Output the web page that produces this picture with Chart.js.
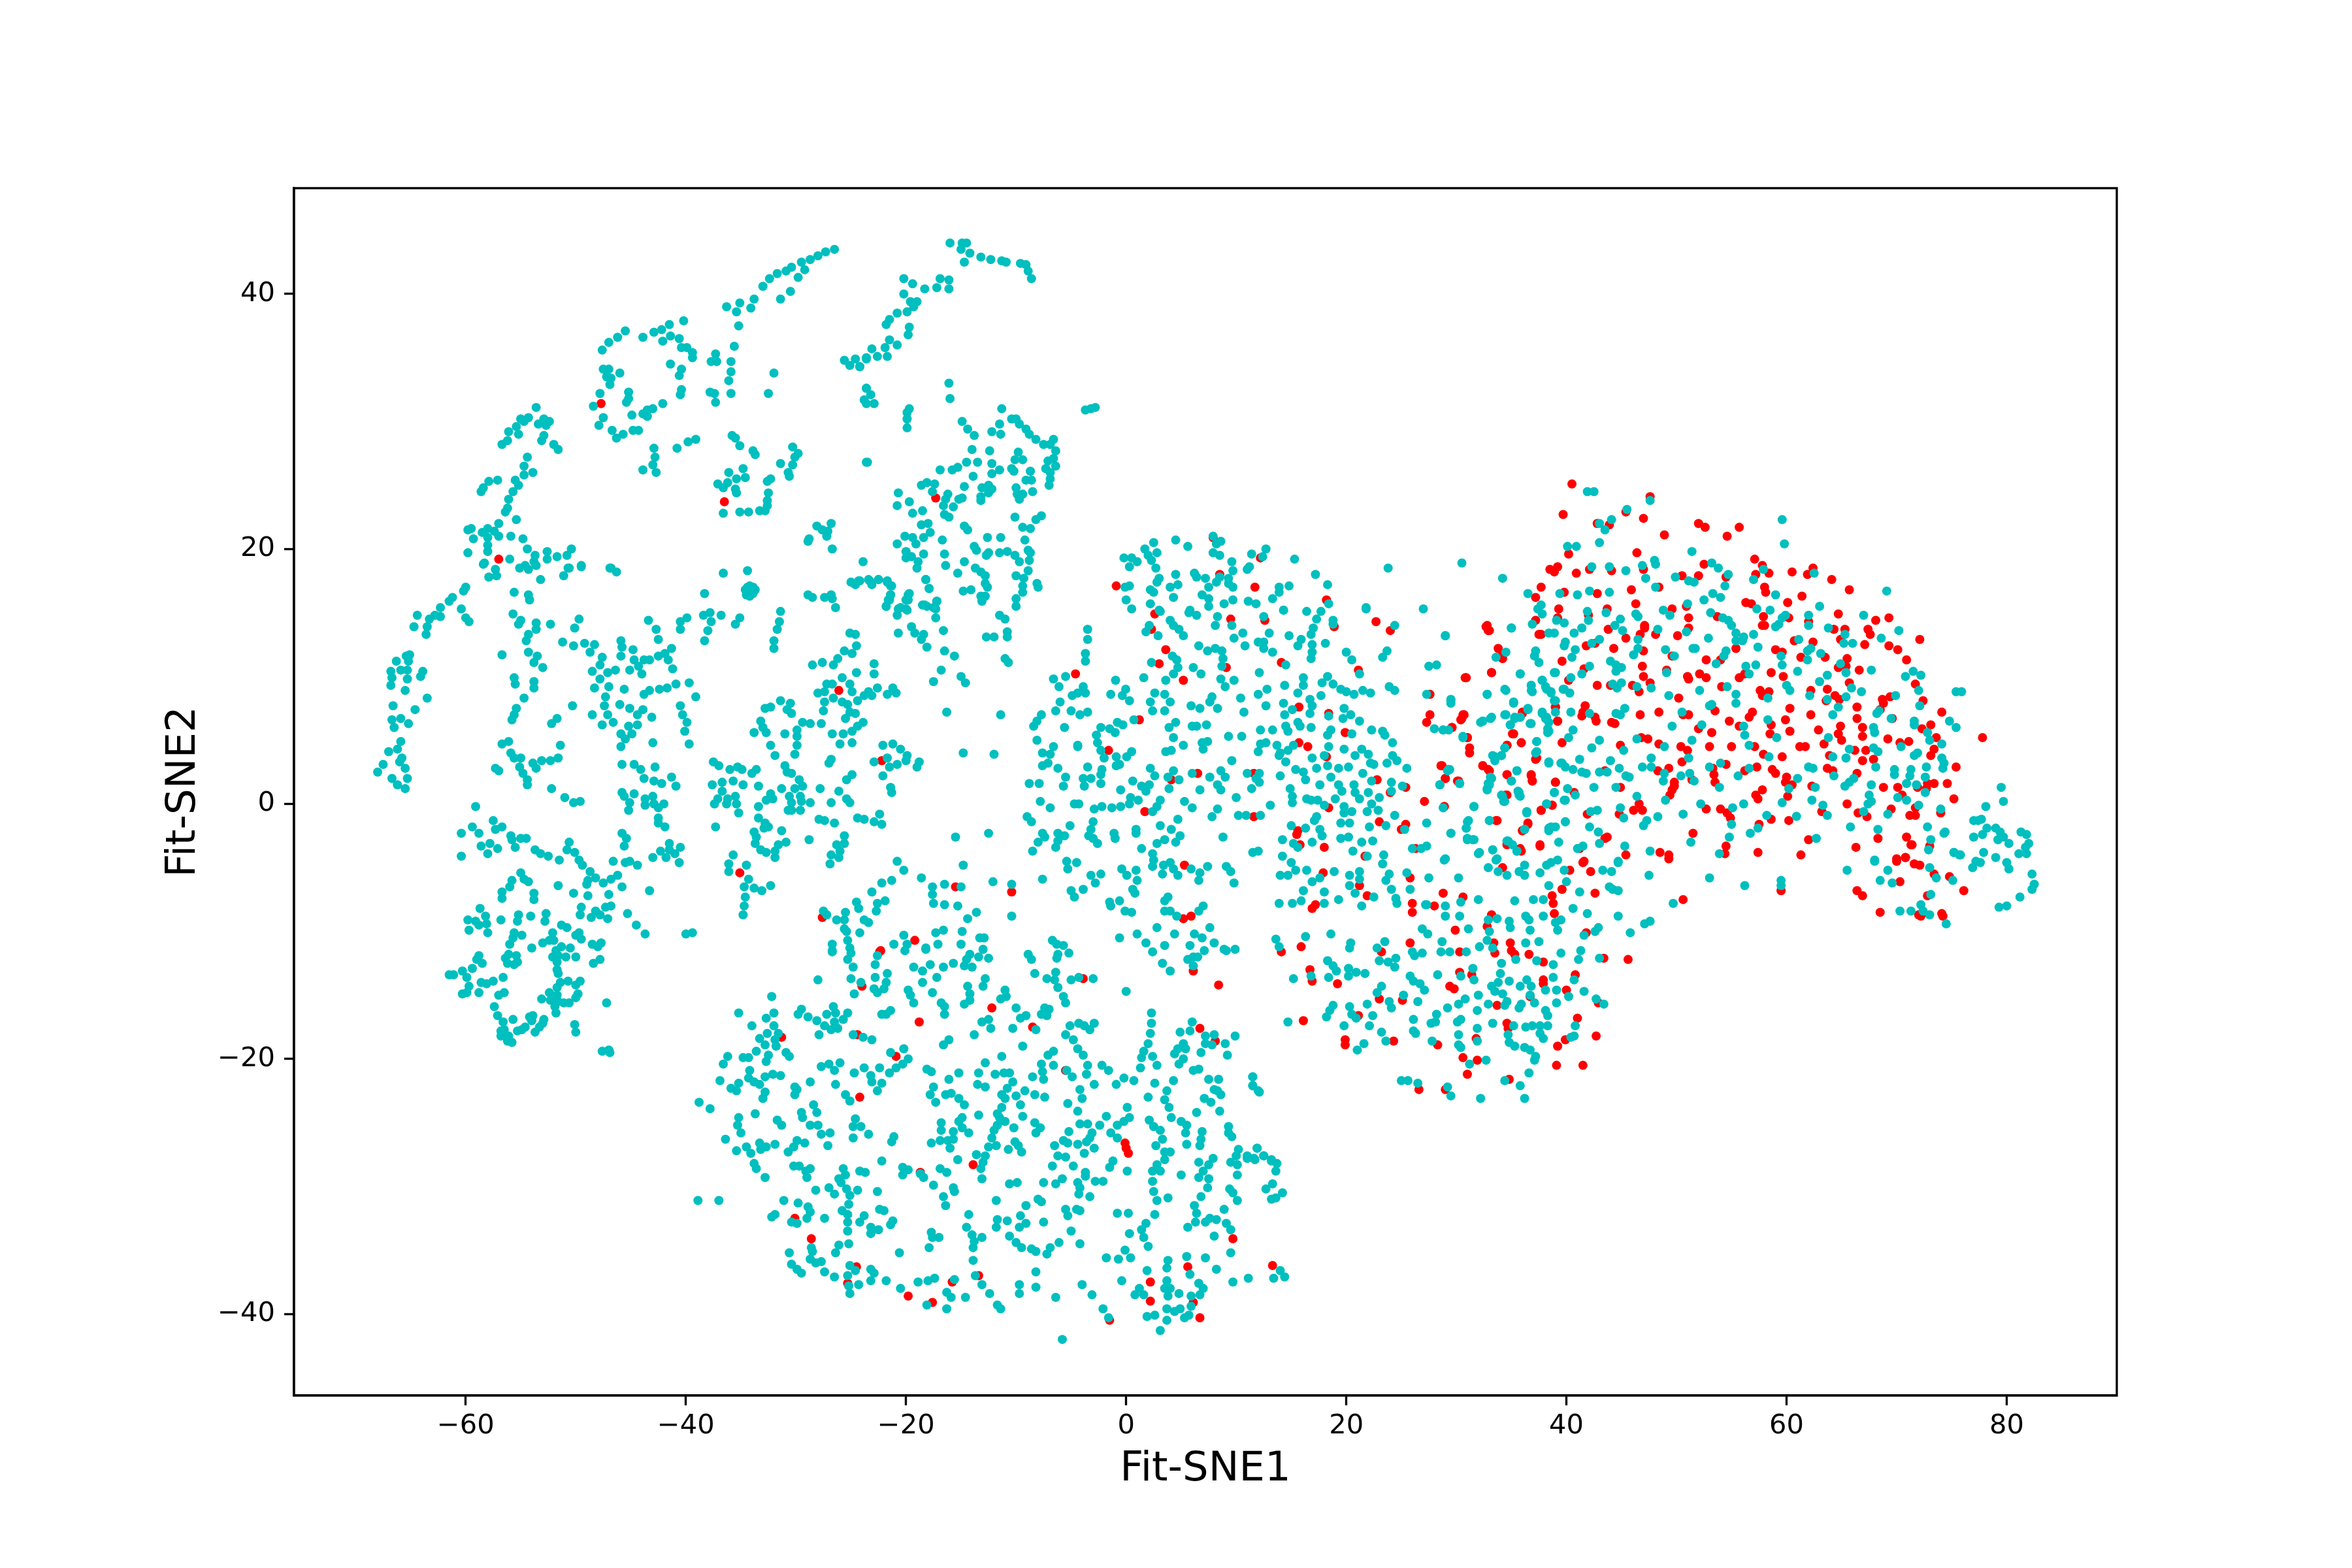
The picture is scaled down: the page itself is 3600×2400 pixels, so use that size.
<!DOCTYPE html>
<html>
<head>
<meta charset="utf-8">
<title>Fit-SNE</title>
<script src="https://cdn.jsdelivr.net/npm/chart.js@4"></script>
<style>
  html, body { margin: 0; padding: 0; background: #fff; }
  canvas { display: block; }
</style>
</head>
<body>
<canvas id="chart" width="3600" height="2400"></canvas>
<script>
const xTicks = [-60, -40, -20, 0, 20, 40, 60, 80];
const yTicks = [-40, -20, 0, 20, 40];
const xLabel = 'Fit-SNE1';
const yLabel = 'Fit-SNE2';

// [Fit-SNE1, Fit-SNE2]
const cyanPoints = [
[-26.5,43.5],[-27.3,43.3],[-28,43],[-28.7,42.7],[-29.5,42.5],[-29.2,41.9],[-29.8,41.3],[-30.4,42.1],[-30.9,41.8],[-31.7,41.6],[-32.4,41.2],[-33,40.6],[-30.5,40.2],[-31.4,39.6],[-33.8,39.6],[-35.1,39.3],[-36.3,39],[-35.4,38.6],[-34.1,38.9],[-35.2,37.5],[-40.2,37.9],[-41.5,37.6],[-42.2,37.2],[-42.9,37],[-43.9,36.6],[-41.4,36.7],[-42.1,36.3],[-40.6,36.5],[-40.4,35.8],[-39.9,35.8],[-39.4,35.4],[-39.4,35],[-45.5,37.1],[-46.2,36.6],[-47,36.2],[-47.6,35.6],[-37.3,35.3],[-37.7,34.7],[-37.2,34.7],[-35.6,35.9],[-35.9,34.7],[-35.9,33.9],[-36.1,33.2],[-35.9,32.2],[-32,33.8],[-32.5,32.2],[-37.8,32.3],[-37.4,32.2],[-37.3,31.5],[-41.4,34.5],[-40.4,34.1],[-40.6,33.6],[-40.4,32.5],[-40.5,32.1],[-47.5,34.1],[-47,34.1],[-46,33.8],[-47.2,33.5],[-46.8,33.4],[-46.9,32.9],[-47.8,32.2],[-45.2,32.3],[-45.2,31.8],[-45.4,31.5],[-48.4,31.2],[-42.1,31.4],[-43,31],[-43.5,30.9],[-43.9,30.6],[-43.5,30.4],[-44.9,30.5],[-47.5,30.3],[-47.9,29.7],[-46.7,29.3],[-46.3,28.7],[-45.7,29],[-44.8,29.3],[-44.3,29.3],[-39.1,28.6],[-39.8,28.4],[-40.8,27.9],[-42.9,27.9],[-42.8,27.2],[-43,26.6],[-43.9,26.2],[-42.7,26],[-35.8,28.9],[-35.5,28.7],[-35.1,28.1],[-33.9,27.7],[-33.7,27.4],[-30.3,28],[-29.8,27.5],[-30.1,27.2],[-30.3,26.6],[-31.4,26.7],[-30.7,26],[-30.6,25.7],[-34.8,26.3],[-36.1,26],[-34.6,25.6],[-35.4,25.5],[-36.2,25.2],[-37.1,25.1],[-36.6,24.8],[-35.5,24.7],[-35.4,24.4],[-32.3,25.5],[-32.6,25.3],[-32.5,24.4],[-32.6,23.8],[-32.6,23.4],[-32.8,23],[-33.3,23],[-34.3,22.9],[-35.1,22.9],[-36.6,22.8],
[-53.6,31.1],[-55,30.2],[-54.3,30.3],[-54.7,30],[-52.9,30.2],[-52.4,30],[-53.4,29.8],[-52.7,29.7],[-55.4,29.6],[-56.1,29.2],[-55.2,29],[-52.9,28.9],[-53.1,28.5],[-56.2,28.5],[-56.7,28.2],[-52,28.2],[-51.6,27.8],[-54.4,27.2],[-54.7,26.5],[-53.9,26],[-54.7,25.8],[-57.1,25.4],[-57.9,25.3],[-55.5,25.4],[-55.2,25],[-58.4,24.8],[-58.6,24.5],[-55.7,24.5],[-56.1,23.9],[-56.2,23.2],[-56.4,22.9],[-55.4,22.3],[-57,22],[-59.5,21.6],[-59.8,21.5],[-58,21.6],[-58.5,21.3],[-57.4,21.4],[-58,20.9],[-59.3,20.8],[-57,21],[-55.9,21],[-54.8,20.8],[-58,20.3],[-59.8,19.7],[-58,19.8],[-54.4,20],[-52.6,19.8],[-50.4,20],[-50.8,19.5],[-51.7,19.4],[-52.6,19.2],[-53.7,19.5],[-53.8,19],[-56,19.2],[-58.3,18.9],[-54.6,18.7],[-49.5,18.7],[-50.6,18.5],
[-26.8,22],[-28.1,21.8],[-27.6,21.5],[-27.1,21.4],[-27.2,21],[-28.8,20.8],[-28.9,20.6],[-26.7,20],[-23.9,19],[-25.6,34.8],[-24.6,34.9],[-25.1,34.4],[-24.2,34.3],[-23.6,34.9],[-23.6,32.6],[-23.8,31.7],[-23.6,31.4],[-23.6,26.8],[-46.9,18.5],
[-16,44],[-14.9,44],[-14.5,44],[-15,43.5],[-14.2,43.2],[-13.2,42.9],[-12.3,42.7],[-11.3,42.6],[-10.9,42.5],[-14.7,42.5],[-9.6,42.4],[-9.1,42.3],[-8.9,41.8],[-8.6,41.2],[-20.2,41.2],[-19.4,40.8],[-16.9,41.2],[-16.1,41.1],[-16.1,40.4],[-17.2,40.5],[-18.3,40.4],[-20.2,40],[-19,39.4],[-19.6,39.4],[-19.3,39],[-19.9,38.6],[-20.8,38.5],[-21.5,38],[-21.8,37.6],[-19.7,37.4],[-19.8,36.8],[-21.5,36.4],[-20.8,36],[-21.9,35.8],[-23.1,35.7],[-21.7,35.1],[-22.6,35.1],[-23.6,35],[-24.2,34.3],[-16.1,33],[-16,31.8],[-23.6,32.6],[-23.2,32.1],[-22.9,31.4],[-19.7,31],[-19.9,30.7],[-19.9,30.2],[-19.9,29.5],[-3.2,31],[-3.7,30.9],[-2.8,31.1],
[-11.3,31],[-14.9,30],[-14.4,29.4],[-13.8,28.9],[-11.5,29.8],[-12.2,29.2],[-11.4,29],[-10.4,30.2],[-10,30.2],[-9.7,29.8],[-9.1,29.4],[-8.8,29],[-8.2,28.6],[-7.5,28.2],[-6.6,28.6],[-6.9,28.2],[-6.4,27.7],[-14,27.8],[-12.4,27.7],[-9.8,27.6],[-6.6,27.1],[-9.4,27],[-10.1,27],[-7.1,26.9],[-23.5,26.8],[-13.5,26.8],[-14.5,26.8],[-12.2,26.7],[-15.3,26.4],[-16.9,26.2],[-15.8,26.2],[-11.5,26.2],[-12.2,25.9],[-10.4,26.3],[-10.2,26.1],[-6.4,26.5],[-7.3,26.3],[-8.7,26.1],[-6.9,26],[-13.9,25.7],[-6.9,25.5],[-9.1,25.4],[-8.6,25.4],[-7,25],[-17.4,25.1],[-18.1,25.2],[-18.6,25],[-14.7,24.9],[-12.5,25],[-12.2,24.7],[-13.1,24.8],[-10,24.8],[-8.5,24.5],[-20.7,24.4],[-17.6,24.5],[-16.2,24.3],[-12.5,24.4],[-9.4,24.3],[-14.9,24],[-13.2,24.1],[-9.9,24.3],[-9.7,23.9],[-15.2,23.9],[-13.2,23.8],[-16.4,23.9],[-19.7,23.7],[-20.8,23.4],[-15.7,23.3],[-16.6,23.4],[-18.5,23],[-19.4,22.8],[-16.5,22.7],[-16.1,22.5],[-10.1,22.5],[-7.7,22.6],[-8.2,22.3],[-18.6,21.9],[-18,22],[-14.7,21.8],[-14.4,21.5],[-9.4,21.7],[-8.7,21.6],[-17.8,21.3],[-20.1,21],[-20.8,20.4],[-19.4,20.9],[-19.1,20.4],[-18.4,20.9],[-16.7,20.7],[-12.6,20.9],[-11.4,20.9],[-9.2,20.7],[-13.8,20.2],[-13.6,19.9],[-8.9,19.9],[-20,19.8],[-18.4,19.6],[-16.5,19.6],[-12.5,19.7],[-11.5,19.7],[-10.8,19.8],[-10.1,19.5],[-8.7,19.7],[-12.7,19.5],[-19.5,19.4],[-20,19.3],[-8.8,19.1],[-9.7,19],[-14.7,19],[-18.9,19],[-16.4,18.7],[-19,18.5],[-13.7,18.5],[-13.2,18.2],[-12.8,17.9],[-8.9,18.3],[-15.3,18.1],[-18.2,17.6],[-10,17.9],[-9.3,17.7],[-8.1,17.3],[-12.8,17.3],[-9.4,17.1],[-8,17],[-12.6,17],[-21.7,17.4],[-22.5,17.6],[-23.4,17.6],[-24.2,17.5],[-21.4,17.1],[-17.9,16.9],[-14.8,16.7],[-14.1,16.8],[-21.4,16.4],[-19.8,16.4],[-9.4,16.6],[-13.2,16.3],[-12.8,16.3],[-21.5,16],[-19.8,16],[-10,16.1],[-17.2,15.9],[-13.1,15.9],[-21.8,15.5],[-18.5,15.6],[-17.3,15.3],[-10,15.5],[-20.7,15.3],[-20,15.3],[-18.1,15.5],
[4.5,20.7],[7.9,21],[8.6,20.6],[8.2,20.4],[5.6,20.2],[2.5,20.5],[1.7,20],[2.8,19.7],[2,19.5],[-0.2,19.3],[0.5,19.3],[1,19],[0.3,18.6],[2.3,19.1],[12.7,20],[11.4,19.6],[12.4,19.4],[7.9,19.7],[8.5,19.5],[15.3,19.2],[9.6,19],[11.2,18.6],[11,18.4],[9.7,18.3],[23.8,18.5],[2.7,18.5],[4.5,18],[6.2,18.1],[6.4,17.8],[17.2,18],[8.5,17.8],[9.3,17.7],[3,17.7],[2.8,17.4],[7.2,17.7],[8.2,17.4],[9.3,17.3],[4.7,17.2],[4,17],[13.9,17],[14.8,17.1],[18.3,17.2],[9.7,17],[7.5,17],[-0.1,17],[0.3,17.1],[2.2,16.8],[2.5,16.6],[13.9,16.6],[4.3,16.2],[6.9,16.4],[13.3,16.1],[7.5,16.1],[9.7,16],[11.1,15.9],[11.8,15.7],[18.4,15.7],[0,16],[2.2,15.7],[8.9,15.7],[7.5,15.5],[21.8,15.3],[27,15.3],[14.3,15.2],[16.4,15.1],[17.7,15.1],[3,15.2],[0.5,15.3],[5.8,15.2],
[-57.9,17.8],[-57.2,17.9],[-58.4,18.8],[-57.3,18.4],[-55.1,18.5],[-54.3,18.4],[-53.6,18.7],[-53.2,17.6],[-51.1,17.9],[-50.7,18.5],[-49.5,18.6],[-46.8,18.5],[-46.3,18.2],[-36.6,18.1],[-34.4,18.3],[-34.2,16.7],[-34.4,17],[-33.9,16.5],[-34.5,16.4],[-33.9,17],[-34.2,17.1],[-34.6,16.8],[-33.7,16.8],[-34.2,16.3],[-38.3,16.5],[-28.9,16.4],[-28.5,16.2],[-27.4,16.2],[-26.8,16.4],[-26.7,16.1],[-26.4,15.4],[-25,17.4],[-24.3,17.5],[-24.6,17.2],[-23.3,17.5],[-23.1,17.2],[-22.5,17.6],[-21.7,17.5],[-21.3,17.1],[-18.2,17.6],[-17.9,16.9],[-21.4,16.4],[-21.6,16],[-21.8,15.5],[-19.7,16.5],[-20,16],[-20.5,15.4],[-19.9,15.2],[-20.8,14.8],[-18.3,15.6],[-17.2,15.9],[-17.5,15.4],[-17.3,14.6],[-20.7,13.4],[-19.5,13.9],[-19.2,13.4],[-18.4,13.3],[-18.6,12.9],[-18.1,12.3],[-16.6,13.6],[-16.5,12],[-16.8,10.5],[-17.5,9.6],[-16.3,7.2],
[-60,17],[-60.2,16.7],[-61.2,16.2],[-61.5,15.9],[-62.3,15.4],[-60.4,15.3],[-62.8,14.8],[-63.3,14.5],[-62.3,14.7],[-60,14.6],[-59.7,14.3],[-64.4,14.8],[-64.7,13.9],[-63.5,13.9],[-63.6,13.3],[-55.6,16.6],[-54.3,16.4],[-54.2,16],[-55.7,14.9],[-55,14.4],[-55.2,14.1],[-53.6,14.2],[-52.3,14.1],[-53.6,13.7],[-54.3,13.3],[-54.5,12.8],[-49.7,14.5],[-50.1,13.8],[-51.2,12.7],[-50.2,12.4],[-49.2,12.6],[-48.3,12.5],[-48.7,11.9],[-56.7,11.7],[-54.3,11.9],[-53.5,11.6],[-53.8,11.1],[-53,10.7],[-65.1,11.7],[-65.4,11.6],[-66.3,11.2],[-65.2,11.2],[-66.8,10.4],[-65.9,10.5],[-65.3,10.5],[-63.9,10.4],[-64.1,10],[-66.7,9.9],[-65.3,9.8],[-66.8,9.3],[-65.5,8.9],[-63.5,8.3],[-66.6,7.7],[-64.6,7.4],[-66.7,6.6],[-65.9,6.7],[-65.2,6.3],[-66.5,6],[-65.9,4.9],[-67,4.1],[-66.2,4.3],[-65.8,3.6],[-66,3.3],[-65.5,2.8],[-67.5,3.1],[-68,2.5],[-66.7,2],[-65.3,2],[-66.2,1.5],[-65.5,1.2],
[-55.6,9.9],[-55.5,9.4],[-53.8,9.6],[-53.8,9.1],[-54.7,8.3],[-55.4,7.5],[-55.6,7],[-55.8,6.6],[-50.3,7.7],[-51.7,6.7],[-52.2,6.3],[-48.5,7],[-47.6,6.2],[-47.6,11.5],[-47.8,10.9],[-48.5,10.4],[-46.4,10.5],[-47.1,10.3],[-47.8,9.8],[-48.3,9.1],[-47,9.2],[-47.3,8.4],[-45.9,12.8],[-45.8,12.3],[-45.9,11.6],[-44.8,12.1],[-44.7,11.3],[-45.1,10.5],[-44.3,10.8],[-44,10.2],[-43.8,11.3],[-43.3,11.3],[-42.5,11.6],[-41.3,12.2],[-41.9,11.8],[-41.6,11.3],[-41.2,10.6],[-45.6,9],[-43.3,8.9],[-43.8,8.6],[-42.4,9],[-41.7,9.1],[-40.9,9.4],[-39.7,9.5],[-39.1,8.4],[-47.4,7.7],[-46,7.8],[-45.1,7.5],[-47.1,7],[-43.9,7.4],[-44.4,7],[-43.1,6.8],[-46.6,6.4],[-44.4,6.2],[-45.2,6.1],[-40.5,7.7],[-40.3,7],[-39.9,6.4],[-40.1,5.7],[-45.9,5.5],[-44.9,5.5],[-45.5,5.1],[-45.9,4.5],[-43,4.8],[-39.7,4.7],[-43.4,14.4],[-42.7,13.7],[-42.5,12.9],[-40.5,14.3],[-39.9,14.6],[-40.5,13.7],[-38.4,14.8],[-37.8,15],[-36.8,14.8],[-37.7,14.3],[-35.1,14.6],[-35.5,14.1],[-38,13.6],[-38.3,12.8],[-31.4,15.1],[-31.5,14.3],[-31.7,13.7],[-32,12.8],[-32,12.2],
[-25.1,13.4],[-24.6,13.3],[-24.5,12.4],[-25.6,12],[-24.9,11.8],[-26.2,11.4],[-26.6,10.9],[-27.6,11.1],[-28.5,10.9],[-24.5,10.3],[-22.9,11],[-22.9,10.2],[-25.8,9.9],[-25.1,9.4],[-24.9,8.8],[-27.2,9.4],[-26.7,9.4],[-28,8.7],[-27.4,8.8],[-26.6,8.3],[-27.4,8],[-25.8,8],[-24.4,8.1],[-23.4,8.8],[-23.8,8.5],[-23.1,8.5],[-22.6,9.1],[-21.2,9.1],[-21.7,8.6],[-20.9,8.7],[-25.3,7.8],[-27.5,7.3],[-25.1,7.2],[-24.6,7.1],[-25.5,6.7],[-23.9,6.4],[-24.4,6.1],[-27.7,6.3],[-26.7,5.5],[-25.7,5.5],[-24.9,5.7],[-24.9,4.8],[-26,4.7],[-31.4,8.1],[-32.3,7.6],[-32.8,7.5],[-30.5,7.9],[-30.8,7.4],[-30.4,7.1],[-33.2,6.5],[-33,6],[-33.8,5.6],[-32.7,5.6],[-31,5.5],[-29.4,6.4],[-28.7,6.3],[-29.9,5.8],[-29.9,5.3],[-32.3,4.6],[-29.9,4.6],[-30.1,3.9],[-31.9,3.8],[-22.1,4.6],[-21.2,4.7],[-20.5,4.3],[-19.9,3.8],[-22.9,3.3],[-21.7,3.6],[-21.5,2.9],[-20.8,3.1],[-20,3.4],[-18.8,3.3],[-19,2.9],[-22.1,2.2],[-21.4,1.3],[-21.3,0.9],[-26.8,3.5],[-27,3.2],[-24.9,2.3],[-25.4,1.9],[-26.1,1],[-27.8,1.2],[-25.4,0.4],[-25.1,0.1],[-26.8,0.1],
[-31,3],[-30.8,2.5],[-30.4,2.4],[-29.7,1.9],[-29.4,1.4],[-31.3,1.2],[-30.1,1.2],[-30.6,0.6],[-29.6,0.6],[-28.7,0.1],[-30.4,0.1],[-29.5,0.2],[-30.7,-0.5],[-29.6,-0.5],[-30.4,-0.5],[-32.3,0.8],[-32.1,0.4],[-32.7,0.3],[-33.4,1.4],[-33.4,-0.2],[-33.4,-1.1],[-32.8,-1.5],[-32.5,-1.8],[-32.9,-1.9],[-34,2.4],[-33.6,2.7],[-34.8,1.5],[-35.3,2.9],[-36,2.7],[-34.9,2.7],[-35.7,1.8],[-37.5,3.3],[-37,3],[-37.6,1.5],[-36.7,1.7],[-36.7,1],[-35.5,0.6],[-36.2,0.4],[-37.1,0.4],[-37.4,0],[-36.3,0],[-35.4,0],[-35.2,-0.7],[-37.3,-1.8],[-33.8,-2.2],[-33.6,-2.6],[-31.3,-2.1],[-30.9,-3],[-31.6,-3.2],[-33.7,-3.1],[-33.2,-3.6],[-32.7,-3.8],[-31.9,-3.7],[-31.9,-4.2],[-28.8,-2.8],[-27.9,-1.2],[-27.4,-1.3],[-26.5,-1.5],[-25.6,-2.5],[-25.6,-3.1],[-26.3,-3.2],[-26,-3.7],[-26.8,-4],[-26.1,-4.2],[-26.9,-4.7],[-24.4,-1.1],[-23.8,-1.2],[-22.9,-1.4],[-22.4,-0.8],[-22.2,-1.6],[-35.7,-4],[-36.1,-4.7],[-34.5,-4.8],[-36.1,-5.3],[-34.3,-5.9],[-34.7,-6.5],[-33.8,-6.6],[-33.1,-6.8],[-32.3,-6.4],[-34.6,-7.3],[-34.7,-8],[-34.8,-8.7],
[-20.8,-4.5],[-20.2,-5.2],[-18.6,-5.8],[-21.3,-6],[-22.2,-6.2],[-16.5,-6.3],[-23.1,-6.9],[-17.6,-6.5],[-17.6,-7.1],[-17.5,-7.8],[-16.5,-7.9],[-24.5,-7.7],[-24.3,-8.2],[-21.9,-7.6],[-22.6,-7.8],[-22.7,-8.4],[-25.5,-8.5],[-27.5,-8.4],[-27.2,-8.7],[-26.3,-9.1],[-25.6,-9.1],[-23.8,-9.1],[-23.4,-9.3],[-25.6,-9.8],[-25.4,-10],[-24.2,-10.1],[-16.6,-9.9],[-17.3,-10.1],[-20.2,-10.3],[-21.1,-11],[-19.9,-11],[-18.2,-11.3],[-17.1,-11],[-26.7,-11],[-25.3,-10.7],[-25.1,-11.3],[-26.7,-11.5],
[-56.7,4.7],[-56.1,4.9],[-55.9,4],[-55.6,3.6],[-55,3.6],[-55.1,2.9],[-54.8,2.4],[-54.4,1.9],[-54.4,1.5],[-57.3,2.8],[-57,2.6],[-53.9,3.2],[-53.6,2.8],[-53.1,3.4],[-52.3,3.4],[-51.6,3.6],[-51.4,4.6],[-52.2,1.2],[-51,0.5],[-50.2,0.1],[-49.6,0.2],[-59.1,-0.2],[-45.8,3.1],[-44.7,3.1],[-44.1,2.7],[-42.8,2.9],[-43.8,2],[-42.9,1.8],[-42.2,1.6],[-41.3,2.1],[-40.9,1.4],[-45.8,0.9],[-44.7,0.8],[-45.6,0.6],[-43,0.6],[-43.7,0.4],[-45.1,0.1],[-43.7,-0.1],[-42.9,0],[-42,0],[-42.5,-0.3],[-45.2,-0.5],[-42.5,-1.1],[-42.5,-1.5],[-41.9,-1.8],[-45.8,-2.3],[-45.4,-2.7],[-45.6,-3.3],[-40.5,-3.4],[-41.5,-3.1],[-42.3,-3.7],[-41.5,-3.6],[-43,-4.2],[-41,-3.9],[-40.6,-4.6],[-41.8,-4.2],[-46.6,-4.5],[-45.5,-4.6],[-45.1,-4.5],[-44.4,-4.8],
[-57.5,-1.3],[-59.4,-1.8],[-60.4,-2.3],[-58.8,-2.3],[-56.7,-1.8],[-57.3,-2],[-55.9,-2.5],[-55.8,-2.8],[-55,-2.7],[-54.5,-2.7],[-57.8,-3.1],[-58.6,-3.3],[-57.1,-3.5],[-58,-3.9],[-55.5,-3.4],[-60.4,-4.1],[-53.7,-3.6],[-53.2,-3.9],[-52.5,-4.1],[-50.6,-3],[-50.8,-3.6],[-50.1,-3.8],[-51.5,-4.4],[-49.7,-4.4],[-49.4,-4.8],[-48.7,-5.3],[-55,-5.4],[-54.7,-5.9],[-54.3,-6.1],[-55.8,-6],[-48.2,-5.8],[-48.9,-6],[-46.2,-5.6],[-46.8,-5.9],[-47.5,-6.2],[-49,-6.3],[-51.6,-6.4],[-45.8,-6.5],[-43.3,-6.8],[-56,-6.5],[-56.7,-6.9],[-53.8,-7],[-53.8,-7.5],[-56.7,-7.4],[-50.2,-7],[-48.9,-7.2],[-47,-7.1],
[-58.7,-8.2],[-59.8,-9.1],[-59.1,-9.2],[-58.2,-8.8],[-58.1,-9.4],[-58.8,-9.5],[-59.7,-9.9],[-58,-10.1],[-56.8,-9.1],[-55.2,-8.7],[-55.3,-9.2],[-54.1,-8.8],[-52.7,-8.6],[-52.8,-9.2],[-51.3,-9.5],[-50.8,-9.7],[-49.5,-8.1],[-49.6,-8.7],[-48.2,-8.4],[-48.6,-8.9],[-47.3,-8.1],[-46.8,-8],[-47.1,-9],[-47.8,-8.7],[-45.3,-8.6],[-44.5,-9.5],[-43.7,-10.2],[-40,-10.2],[-39.4,-10.1],[-55.6,-10.1],[-55.7,-10.5],[-54.9,-10.3],[-56,-11],[-54,-11.3],[-52.1,-10.1],[-52,-10.7],[-53,-10.9],[-52.4,-10.7],[-51.3,-11.2],[-51.8,-11.5],[-50.5,-11.3],[-50,-10.3],[-49.7,-10.1],[-49.5,-10.6],[-48.5,-11],[-48,-11.2],[-47.7,-10.9],[-52.1,-12],[-51.6,-11.9],[-50.9,-12],[-50,-12],[-51.7,-12.4],[-47.8,-12.2],[-48.4,-12.5],[-58.8,-11.9],[-59,-12.2],[-58.5,-12.5],[-56.1,-11.8],[-56.4,-12.1],[-55.4,-11.9],[-56.2,-12.5],[-55.3,-12.4],[-55.6,-12.6],[-59.4,-12.9],[-60.3,-13.1],[-61.5,-13.4],[-61.1,-13.4],[-59.9,-13.6],[-56.6,-13.6],[-51.7,-13],[-51.6,-13.3],[-58.6,-14],[-58.1,-14.1],[-57.5,-13.9],[-59.7,-14.3],[-58.8,-14.8],[-60.3,-14.9],[-59.9,-14.8],[-51.4,-14],[-50.7,-13.9],[-50,-14.2],[-49.6,-13.9],[-51.7,-14.4],[-52.4,-14.8],[-49.8,-14.9],[-50,-15.2],[-53.1,-15.3],[-52.3,-15.4],[-51.7,-15],[-51.6,-15.5],[-56.5,-14.8],[-57,-15],[-51.1,-15.6],[-50.6,-15.6],[-47.2,-15.6],[-51.9,-15.9],[-57.4,-15.9],[-51.8,-16.4],[-57.1,-16.6],[-55.7,-16.9],[-53.9,-16.6],[-54.2,-16.7],[-54,-17],[-52.9,-16.9],[-53,-17.2],[-53.3,-17.5],[-56.6,-17.1],[-56.5,-17.7],[-54.6,-17.5],[-54.9,-17.7],[-55.3,-17.8],[-53.7,-17.9],[-56.8,-17.8],[-56.8,-18.2],[-56.1,-18.2],[-56.2,-18.6],[-55.8,-18.7],[-50.1,-17.3],[-50,-17.9],[-47,-19.3],[-47.6,-19.4],[-46.9,-19.5],
[-26.7,-11.6],[-25,-11.7],[-25.3,-12.2],[-24.8,-12.8],[-22.6,-11.9],[-22.8,-12.6],[-20.1,-11.5],[-18.2,-11.4],[-14.2,-11.8],[-13.4,-12],[-12.5,-12.1],[-13,-11.4],[-8.9,-11.8],[-8.6,-12.2],[-6.2,-11.8],[-5.2,-11.7],[-6.3,-12.1],[2.4,-11.6],[3.3,-12.5],[4,-13.1],[5.6,-12.2],[6.1,-12],[6.1,-12.7],[7.1,-11.5],[9.1,-11.5],[-28,-13.8],[-25,-13.7],[-21.7,-13.3],[-22.8,-13.6],[-21.8,-14],[-24.1,-14],[-22.9,-14.5],[-22,-14.5],[-22.6,-14.8],[-24.7,-14.9],[-32.2,-15.1],[-35.2,-16.4],[-19.3,-12.8],[-18.5,-13.1],[-17.8,-12.6],[-16.6,-12.8],[-15.7,-12.5],[-14.7,-12.7],[-14,-12.8],[-17.2,-13.6],[-18.5,-14],[-12.8,-13.7],[-14.4,-14.3],[-13,-14.3],[-19.8,-14.6],[-17.6,-14.8],[-19.6,-15],[-14.2,-14.9],[-11,-14.6],[-10.9,-15.1],[-11.4,-15.3],[-14.2,-15.4],[-19.3,-15.6],[-14.7,-15.7],[-16.8,-15.6],[-16.5,-15.9],[-16.5,-16.5],[-10,-16],[-7.4,-16],[-7,-16.1],[-7.7,-16.5],[-7.2,-16.6],[-9.1,-16.6],[-9.6,-16.8],[-8.3,-13.3],[-7.2,-13.7],[-6.4,-13.2],[-6.5,-13.8],[-6.2,-14.4],[-5.7,-15.1],[-5.5,-15.6],[-5,-13.8],[-4.3,-13.6],[-3,-13.7],[0,-14.7],
[-22.2,-16.5],[-21.4,-16.2],[-21.8,-16.5],[-13.1,-17.1],[-12.5,-16.9],[-12.3,-17.6],[-10.3,-17.6],[-8.2,-17.7],[-13.8,-18.1],[-16.1,-18.5],[-16.6,-18.9],[-9.4,-19],[-5.1,-17.4],[-4.3,-17.2],[-3.3,-17.7],[-2.9,-17.2],[-3.8,-17.4],[-5.5,-18.1],[-4.8,-18.5],[-4.4,-19.2],[-3.9,-19.7],[2.3,-16.4],[2.3,-17.2],[2.2,-18],[2,-18.8],[1.6,-19.4],[1.4,-19.9],[6,-17.1],[5.8,-17.8],[4.9,-17.9],[7.2,-18.2],[8,-18.1],[7.2,-18.8],[7.8,-18.9],[9,-18.8],[9.9,-18.2],[5.2,-18.8],[4.7,-19.2],[5.4,-19.2],[4.4,-19.6],[6.8,-19.5],[9.2,-19.7],[5.2,-20],[4.8,-20.4],[2.4,-19.8],[2.8,-20.5],[6.6,-20.8],[6.1,-20.9],[1.3,-20.7],
[-32,-16.4],[-32.7,-16.8],[-32,-17.4],[-34,-17.4],[-32.6,-18],[-31.6,-18],[-33.3,-18.4],[-31.9,-18.5],[-32.8,-18.9],[-31.8,-19],[-33.6,-19.4],[-30.9,-19.5],[-30.6,-19.8],[-32.5,-19.7],[-32.7,-20.2],[-34.8,-19.9],[-34.3,-19.9],[-36.2,-19.8],[-36.6,-20.4],[-34.2,-20.9],[-36.9,-21.7],[-34.3,-21.5],[-33.8,-21.8],[-32.8,-21.4],[-32.1,-21.2],[-31.4,-21.3],[-33.3,-22],[-35.2,-21.9],[-35.9,-22.3],[-35.4,-22.5],[-32.8,-22.6],[-33,-23.1],[-38.8,-23.4],[-37.8,-23.9],[-29.5,-16.1],[-29.8,-16.5],[-28.9,-16.7],[-28.1,-17],[-27.2,-16.5],[-26.6,-15.9],[-26.4,-16.4],[-25.3,-16.4],[-26.5,-17.1],[-25.7,-16.9],[-27.4,-17.4],[-26.2,-17.6],[-26.8,-17.7],[-27.9,-18.1],[-24.8,-18.1],[-23.9,-18.3],[-23.1,-18.5],[-20.2,-19.2],[-21.4,-19.5],[-19.8,-20],[-20.3,-20.4],[-20.9,-20.7],[-27.7,-20.6],[-27,-20.4],[-26.5,-20.9],[-26,-20.3],[-24.7,-21.1],[-23.8,-20.7],[-23.2,-21.3],[-22.4,-20.7],[-21.5,-21.1],[-23.1,-21.8],[-22.2,-21.9],[-22.6,-22.5],[-18.1,-20.8],[-17.7,-21],[-15.2,-21.1],[-16.1,-21.6],[-12.8,-20.3],[-11.3,-19.8],[-13.4,-21.1],[-11.9,-21.2],[-11.1,-21.1],[-10.6,-21.1],[-8.5,-21.4],[-7.7,-20.4],[-7.6,-21],[-7.5,-21.6],[-6.6,-20.5],[-6.6,-19.4],[-7.1,-19.7],[-5.4,-20.9],[-4.9,-21.4],[-3.5,-20.5],[-3.6,-21.2],[-2.2,-20.5],[-1.6,-20.9],[-2.9,-22],[-0.9,-22],[-0.2,-21.5],[0.7,-21.7],[2.6,-21.9],[4.3,-21.7],[7.5,-21.6],[8.4,-21.6],[11.5,-21.4],
[-13.5,-22],[-12.8,-22.2],[-10.3,-21.8],[-10.8,-22.3],[-9.2,-22.5],[-11.3,-22.8],[-11,-23.1],[-8.3,-22.8],[-7.4,-23],[-10,-22.9],[-9.6,-23.6],[-4.2,-22.4],[-4,-23.1],[-5.3,-23.5],[-4.4,-24.1],[8.3,-22.5],[8,-22.4],[8.6,-22.8],[11.5,-22.1],[12.1,-22.6],[3.7,-22.5],[3.5,-23.2],[3.9,-23.8],[2,-23],[7.1,-23.1],[7.7,-23.4],[8.5,-24.1],[6.4,-24.2],[4.1,-24.6],[-17.5,-22.2],[-17.8,-22.8],[-16.4,-22.8],[-15.9,-22.7],[-17.3,-23.4],[-15.2,-23.1],[-14.7,-23.6],[-30.1,-22.2],[-29.9,-22.4],[-30.1,-22.8],[-28.7,-21.8],[-26.4,-22],[-25.5,-22.8],[-25.1,-23.3],[-28.4,-23.6],[-28.1,-24.2],[-29.5,-24.2],[-29.4,-24.6],[-33.7,-24.3],[-35.2,-24.6],[-31.7,-24.8],[-31.3,-25.2],[-28.7,-25.2],[-28,-25.2],[-27.7,-25.9],[-26.9,-25.8],[-35.3,-25.2],[-35,-25.8],[-24.6,-24.7],[-24.8,-25.3],[-24.1,-25.3],[-24.8,-26.2],[-23.4,-25.9],[-21.1,-26.1],[-21.3,-26.5],
[-36.4,-26.3],[-34.5,-26.9],[-33.3,-26.6],[-32.7,-26.9],[-31.9,-26.7],[-33.2,-27.1],[-35.4,-27.2],[-34.1,-27.4],[-29.9,-26.4],[-29.2,-26.6],[-30.2,-26.9],[-27.1,-26.8],[-30.7,-27.3],[-33.8,-28.2],[-33.6,-28.6],[-32.8,-29.3],[-30.2,-28.4],[-29.7,-28.4],[-28.7,-28.6],[-29.1,-28.8],[-29,-29.3],[-22.2,-28],[-25.7,-28.6],[-25.5,-29.1],[-26.1,-29.4],[-24.2,-28.8],[-23.7,-28.9],[-25.9,-29.7],[-20.3,-28.5],[-19.8,-28.7],[-20.3,-29.1],[-18.7,-29],[-18.4,-29.3],[-17.5,-29.9],[-16.9,-28.6],[-16.3,-28.9],[-15.7,-30.1],[-15.6,-30.4],
[-16.8,-25],[-16.8,-25.6],[-15.7,-25.7],[-14.9,-24.6],[-15.2,-24.9],[-14.9,-25.4],[-14.3,-25.8],[-17.7,-26.6],[-16.9,-26.4],[-16.2,-26.4],[-15.7,-26.3],[-16,-27],[-13.4,-24.4],[-11.7,-24.3],[-11.3,-23.8],[-11.5,-24.6],[-11,-24.9],[-11.7,-25.2],[-12,-25.6],[-10.2,-25.4],[-9.4,-24.5],[-12.2,-26.2],[-12.5,-26.9],[-11.8,-26.8],[-10.7,-27.1],[-10.1,-26.5],[-9.8,-26.8],[-9.5,-27.3],[-13.6,-27.5],[-12.8,-27.6],[-15.3,-27.9],[-13,-28.1],[-13.2,-28.6],[-13.1,-29.4],[-10.6,-29.8],[-9.9,-29.7],[-8.3,-25],[-7.8,-25.4],[-8.2,-25.8],[-5.2,-25.7],[-4.2,-25.1],[-3.5,-25.1],[-2.4,-25.2],[-1.8,-24.5],[-0.8,-25.2],[-0.2,-24.9],[0.3,-24.6],[0.1,-23.8],[-1.4,-25.8],[-0.8,-26.2],[-3.1,-25.8],[-3.3,-26.2],[-5.7,-26.4],[-5.3,-26.6],[-4.4,-26.7],[-3.6,-26.5],[-6.5,-26.8],[-2.9,-27],[-3.8,-27.4],[-6.2,-27.6],[-5.5,-27.7],[-1.2,-28],[-1.5,-28.5],[-6.7,-28.4],[-4.8,-28.4],[0.1,-28.8],[-3.7,-28.9],[-3.7,-29.2],[-5.8,-29.4],[-6.4,-29.8],[-7.5,-29.7],[-4.4,-29.7],[-2.8,-29.6],[-2.1,-29.6],[-4.2,-30.1],[-4.3,-30.6],[-3.3,-30.8],[-8,-31],[-7.7,-31.2],[-11.8,-31.1],
[2.1,-24.8],[2.5,-25.3],[3.1,-25.6],[3.3,-26.3],[2.7,-26.8],[5,-24.9],[5.5,-25.2],[5.4,-25.8],[6.9,-25.7],[6.8,-26.3],[6.7,-26.8],[5.5,-26.7],[9.3,-25.3],[9.3,-25.8],[9.6,-26.1],[3.5,-27.3],[4,-27.3],[3.5,-27.9],[10.2,-27.1],[11.9,-27],[12.5,-27.6],[13.2,-28],[10,-27.6],[11,-27.6],[11.7,-27.9],[9.5,-28.1],[10.1,-28.3],[6.6,-28.1],[7.9,-27.8],[7.5,-28.3],[7,-28.8],[2.8,-28.3],[2.4,-28.8],[3.1,-28.8],[5,-29.1],[6.6,-29.3],[7.5,-29.4],[10.1,-29.1],[2.4,-29.6],[7.4,-30.1],[9.4,-30.2],[9.7,-30.5],[12.7,-30.2],[13.3,-29.8],[13.2,-31],[10.1,-31.1],[6.8,-30.8],[2.5,-30.4],[2.8,-31.1],[3.8,-30.9],[6.2,-31.5],[8.9,-31.8],[6.4,-32.1],[7.6,-32.5],[7.2,-32.8],[8.2,-32.6],[2.6,-32.2],[-0.8,-32.1],[0.2,-32.1],[1.8,-32.9],[1.4,-33.4],[0.3,-33.7],[1.6,-34],[2,-34.7],[5.6,-33.2],[6.3,-32.8],[9.1,-32.9],[9.5,-33.4],[8,-33.9],[9.5,-35.2],
[-4.5,-31.8],[-5.5,-31.8],[-4.2,-31.9],[-5,-33.5],[-4.2,-34.5],[-5.3,-32.3],[-7.5,-32.8],[-9.1,-31.5],[-9.6,-32.3],[-9.1,-32.9],[-9.7,-33.2],[-10.8,-32.7],[-11.7,-32.6],[-11.8,-33.2],[-14.3,-32.2],[-14.5,-33.2],[-14,-33.8],[-13.1,-34],[-13.8,-34.3],[-13.9,-34.8],[-10.6,-33.9],[-10,-34.4],[-9.5,-34.8],[-8.6,-34.9],[-8.2,-35.1],[-7.2,-35.3],[-6.9,-34.8],[-6.1,-34.4],[-13.9,-35.8],[-16.6,-30.8],[-16.4,-31.5],[-22.4,-31.8],[-22,-31.9],[-21.2,-32.7],[-21.4,-33],[-22.6,-30.4],[-27,-30.1],[-26.5,-30.6],[-25.4,-30.2],[-24.4,-30.3],[-25.1,-30.7],[-28.2,-30.3],[-25.2,-31.4],[-31.1,-31.1],[-29.8,-31.3],[-28.9,-31.6],[-28.7,-32],[-37,-31.1],[-38.9,-31.1],[-31.9,-32.2],[-32.2,-32.4],[-30.4,-32.8],[-29.9,-32.9],[-29,-32.5],[-27.4,-32.5],[-25.8,-31.9],[-25.3,-32.2],[-25.3,-32.8],[-23.8,-32.3],[-24.2,-32.8],[-25.3,-33.5],[-23.2,-33.2],[-22.5,-33.4],[-23.2,-33.7],[-17.7,-33.6],[-17,-34],[-17.6,-34],[-17.9,-34.8],[-20.6,-35.2],
[-28.6,-34.8],[-28.5,-35.1],[-25.2,-34.5],[-26.1,-34.6],[-26.4,-35.2],[-30.6,-35.2],[-28.7,-35.7],[-27.7,-35.9],[-28.2,-36],[-30.4,-36.1],[-29.9,-36.5],[-29.5,-36.8],[-27.4,-36.7],[-26.5,-37.1],[-25.1,-36.2],[-24.6,-36.6],[-25.3,-37],[-23.2,-36.5],[-22.9,-36.8],[-23.2,-37.4],[-21.8,-37.4],[-24.3,-37.7],[-25.2,-37.8],[-25.1,-38.4],[-20.5,-38],[-18.9,-37.5],[-18,-37.4],[-17.4,-37.2],[-18.1,-39.3],[-16.3,-39.6],[-15.6,-37.3],[-16.3,-38.3],[-15.9,-38.7],[-14.6,-38.7],[-13.7,-37],[-13.1,-37.7],[-12.4,-38.4],[-11.7,-39.3],[-11.4,-39.6],[-9.7,-37.7],[-9.7,-38.4],[-8.2,-36.7],[-8.2,-37.9],[-6.4,-38.7],[-4,-37.7],[-3.1,-38.5],[-2.1,-39.6],[-1.6,-40.3],[3.1,-41.3],[-5.8,-42],[-0.4,-37.4],[1.9,-36.6],[0.8,-38.5],[1.2,-38],[1.6,-38.5],[-1.8,-35.6],[-0.7,-35.7],[-0.1,-35],[0.4,-35.6],[3.8,-35.8],[3.7,-36.4],[5.5,-35.5],[7.2,-35.6],[8.2,-36.5],[11.1,-37.2],[9.7,-37.5],[13.4,-37.2],[5.8,-36.9],[3.7,-37.4],[3.5,-38],[4,-38],[3.8,-38.6],[4.8,-38.4],[6.6,-37.6],[7,-38],[6.7,-38.5],[5.9,-38.6],[5.9,-39.4],[3.7,-39.6],[4.4,-39.8],[4.9,-39.6],[5.7,-40.1],[3.7,-40.5],[1.9,-40.2],[2.6,-40.1],[5.3,-40.3],[14.4,-37.1],[14,-36.6],[14.2,-30.5],[13.6,-30.9],
[-3.5,13.7],[-3.5,12.9],[-3.7,11.8],[-3.7,11.2],[-11,11.4],[-10.7,11.1],[-12.7,13.1],[-12,13.1],[-10.8,13.5],[-10.8,13.1],[-11.5,14.8],[-11,14.5],[3.1,15.1],[4,14.4],[4.3,14],[4.8,13.7],[5.2,13.2],[2.1,14],[1.8,13.5],[2.9,13.2],[6.4,14.8],[5.7,15],[8.3,14.7],[8.1,14],[9.6,14],[12.5,14.7],[10.6,13.4],[9.8,13],[10.8,12.4],[13,13.4],[12,12.7],[12.5,12.7],[12.5,12.2],[14.8,13.2],[15.9,12.9],[15.6,12.4],[14.3,15.2],[17.3,14.5],[17,13.8],[16.8,13.3],[18.8,14.4],[18.8,14.1],[21.8,15.4],[24.4,14],[29,13.2],[35,13.8],[16.9,12.5],[18.1,12.6],[16.9,11.9],[20,11.9],[20.5,11.3],[16.8,11.4],[23.7,12],[23.3,11.5],[6.6,12.4],[7.4,12],[8.1,12.2],[8.7,12],[8.8,11.4],[8.7,10.8],[4.2,11.6],[4.6,11.3],[4.7,10.7],[4.3,10.2],[3.6,9.7],[2.3,11.1],[6.1,10.7],[6.8,10.2],[14.5,10.9],[13.3,11.9],[12.1,10.3],[21.2,10.2],[27.5,10.8],[28.2,10.9],[35.8,10.2],[1.6,9.9],[8.6,9.8],[9.8,9.7],[9,9.2],[-0.96,9.7],
[-5.5,10],[-6.6,9.8],[-6.1,9.2],[-3.9,9.2],[-4.9,8.5],[-3.7,8.7],[-4.4,8.7],[-1.4,8.6],[-0.35,8.5],[-0.04,9],[0.3,8.1],[2.6,8.7],[3.5,8.6],[2.2,8],[4,8],[2.4,7.3],[3.5,7.3],[5.9,7.7],[6.7,7.5],[7.6,8],[7.8,8.4],[8.3,7.5],[10.4,8.3],[10.7,7.2],[12,8.6],[12.8,9],[12.7,7.7],[14.4,9.3],[15.6,8.7],[16.1,9.9],[16.1,9.3],[14.3,7.9],[15.1,7.4],[16.7,8.2],[17.7,8.5],[16.9,7.7],[16.7,7.1],[14.4,7],[17.8,9.5],[18.3,10],[18.8,9.4],[19.5,9],[20.7,8.6],[21.5,8.9],[22.2,8.7],[20,8.8],[23.9,9.2],[24.4,8.9],[27.3,8.6],[29.5,8.1],[32.8,8.6],[34.5,8.9],[36.8,9.3],[36.9,8.8],[37.8,9.7],[38.2,9],[38.6,8.7],[39,10.3],[39.7,9],
[-11.4,7],[-7.7,7],[-8.1,6.5],[-8.4,6.1],[-6,8],[-6.4,7.3],[-5,7.3],[-4.2,7],[-3.5,7.2],[-5.6,6],[-2.3,6],[-1.5,5.9],[-0.8,6.4],[-0.3,6.2],[-1,5.6],[-2.7,5.4],[0.7,6.6],[3.9,6],[4.5,6.4],[4.3,5.2],[6,6.1],[6.4,6.1],[7.3,6.2],[9.3,5.3],[10.5,5.3],[12.2,5.8],[13.3,5.8],[14.5,6.1],[15.6,6.4],[14.7,5.7],[15.8,6.1],[16.8,6],[18.6,5.8],[18.3,5.4],[20.5,5.5],[19.8,7.5],[20.4,7],[19.7,6.7],[21.2,6.5],[18.4,6.9],[22.3,5.8],[23.3,5.7],[23.5,5.4],[24.2,4.8],[28,5.9],[28.8,5.8],[30.6,5.3],[32.4,6.5],[33.2,6.8],[34.5,7],[35.2,8],[34.9,6.2],[35.3,6.8],[35.8,6.8],[36.5,7.5],[36.7,6.3],[37.8,7.2],[38.2,6.8],[38.4,5.7],[39,8.1],[37.3,4.9],
[-8.1,5],[-6.6,4.5],[-4.4,4.6],[-4.4,4.5],[-12,3.9],[-2.6,4.8],[-2.3,4.2],[0.5,4.1],[0.05,3.7],[-0.9,3.7],[-2,3.6],[-7.6,4],[-6.9,3.9],[-7.1,3.2],[-7.6,3],[-6.2,2.8],[-3.5,2.9],[-2.2,2.7],[-2.3,2.3],[-0.6,3.1],[-0.9,3],[4.1,4.2],[3.6,4.1],[5.2,4.6],[6.9,4.8],[7.4,4.9],[7,4.3],[12,4.1],[12.2,4.7],[12.7,4.8],[13.7,4.6],[14,4],[14.7,4.2],[15.2,4.6],[16.9,3.6],[13.9,3.8],[14.5,3.3],[18.4,4.5],[18,3.8],[19.8,4.3],[21.4,4.3],[20.8,3.8],[22,3.9],[22.2,3.2],[22.5,3.1],[23.7,3.2],[24.2,3.8],[24.6,3.4],[25.5,2.8],[29.4,2.7],[29.2,2.6],[30.3,1.6],[28.5,1.5],[33.5,3.7],[34.1,3.8],[34.4,4.4],[37.3,4.1],[38.4,3.2],[39.6,3.2],[35.5,2.6],[35,1.8],[33.1,2.1],[33,1.5],[32.8,1.1],
[-8.8,1.6],[-7.9,1.6],[-5.5,2.1],[-5.7,1.4],[-3.9,2],[-3.2,2],[-3.8,1.4],[-2.3,1.6],[-0.5,1.1],[0.6,1.8],[1.4,1.4],[2.1,1.5],[1.8,1],[2.2,2.8],[2.6,2.2],[3.8,2.1],[4.8,1.9],[3.9,1.2],[4.3,2.6],[6,2.4],[7.6,2.1],[8.6,2.6],[9,2.1],[9.6,3.4],[8.3,1.5],[8.6,1.1],[6.7,1.1],[11,2.4],[12.1,2.4],[11.8,2],[12.1,1.7],[11.4,1.2],[14,2.2],[15.4,2.7],[16.1,2.5],[16.3,1.9],[17.3,2.8],[18.3,3],[19.3,2.8],[20.2,2.9],[21.5,2.4],[17.6,1.5],[18.6,2.1],[19.3,1.5],[19.6,1],[20.7,1.5],[22.3,1.8],[24.1,1.7],[25.1,1.4],[24.1,1],[20.8,0.9],[22,0.9],[14.9,1.2],[15.1,0.6],[16.4,0.4],[17.4,0.3],[19,0.4],[23,0.5],[21.2,0.4],
[-7.8,0.2],[-6.9,-0.3],[-4.7,0],[-4.3,0],[-2.9,-0.4],[-2.2,-0.2],[-1.3,-0.3],[-0.5,-0.2],[0.4,0.5],[1.1,0.3],[0.3,0],[3.1,0.3],[2.8,-0.2],[2.4,-0.6],[5.3,0.2],[6,-0.3],[10,0.5],[8.3,-0.4],[13.1,-0.1],[10.2,-0.9],[10.9,-0.9],[12.2,-0.9],[7.8,-1],[15.1,0.1],[18,-0.1],[16.8,0.3],[19.8,-0.2],[20.5,-0.6],[19.8,-0.7],[22.3,0],[21.9,-0.6],[22.9,-0.5],[24.4,-0.9],[31.6,-0.2],[27.3,-1.5],[17.3,-1],[17.1,-1.3],[19.5,-1.5],[20.3,-1.5],[22.1,-1.8],[23.6,-1.7],[25.3,-2],[31,-1.4],[30.9,-1.9],[33,-1.3],[36.4,-0.7],[38.2,0],[38.9,0.9],[35.7,0.9],[35.8,0.6],[34.3,0.2],[34.1,0.7],[39.8,0.3],[36.2,-2],[38.6,-1.8],[39.9,-1.4],
[-9,-1],[-8.6,-1.4],[-12.5,-2.3],[-5.1,-1.7],[-3,-1.4],[-3.2,-2],[-7.6,-2.3],[-6.2,-2.3],[-5.6,-2.5],[-7.4,-2.6],[-3.4,-2.5],[-3,-2.7],[-1.1,-2.3],[-1,-2.7],[-2.6,-3.1],[0.9,-2],[3.1,-1.7],[4.7,-1.2],[4.1,-2],[4.9,-2.5],[0.9,-2.3],[3.5,-2.8],[2.8,-3.1],[4.5,-3],[8.8,-2.6],[-8,-3],[-8.5,-3.7],[-6.2,-2.9],[-6.4,-3.4],[1.4,-3.5],[2.4,-3.9],[2.5,-4.4],[2.4,-4.9],[3.4,-4.8],[4,-4.6],[4.3,-5.1],[4.7,-5.6],[5.9,-5.1],[7.4,-4.9],[6.7,-5.4],[6.6,-6],[3.3,-5.5],[9.1,-4.9],[9.5,-5.3],[9.8,-6.2],[11.5,-3.8],[12,-3.7],[14.2,-4.1],[15,-4.6],[14,-5.6],[14.7,-5.6],[15.4,-5.2],[16.4,-5.2],[17.6,-5.8],[18.9,-5.3],[16.9,-6.1],[14.2,-2.8],[15,-1.7],[16.3,-1.9],[15.2,-3.1],[15.6,-3.4],[16.9,-3],[17.6,-2],[17.8,-2.5],[19.5,-2.7],[20.2,-2.6],[21.4,-3],[22.4,-2.9],[20.6,-3.7],[21.9,-4.1],[23.4,-4],[23.3,-4.7],[21.2,-5.3],[20.3,-5.6],[21.2,-5.9],[20.3,-6.4],[20.8,-7],[23.9,-5.5],[23.6,-6],[24.1,-6.7],[24.5,-7.4],[25.5,-5.4],[25.8,-6.7],[27.5,-5.8],[30.2,-5.8],[27.3,-7.9],[26,-3.5],[26.8,-3.5],[27.3,-3.3],[28.9,-4.4],[31,-2.7],[31.6,-2.8],[29.5,-2.3],[32.1,-3.8],[33.3,-3.6],[33.6,-4.4],[34.7,-2.9],[35.5,-3.7],[36.2,-4.8],[38.6,-4.6],[38.2,-4.8],[32.9,-5],[33.8,-5.3],[34.6,-5.6],[35.7,-5.3],[36.2,-5.6],[37.6,-5.4],[39.8,-5.2],[38.4,-6.4],
[-7.6,-5.9],[-12.1,-6.1],[-10.4,-6.3],[-5.4,-4.5],[-4.5,-4.6],[-5.3,-5.1],[-3.2,-5.6],[-2.3,-5.5],[-2.8,-6.2],[-0.4,-5.1],[0.9,-5.2],[0.06,-5.6],[1,-6],[-5,-6.8],[-3.9,-6.7],[-4.7,-7.3],[0.6,-6.7],[0.8,-7],[-0.6,-7.6],[-1.5,-7.7],[-1.4,-8],[-0.1,-8.4],[3.5,-7.6],[3.8,-7.3],[7,-8],[4,-8.4],[13.9,-7.8],[15.1,-7.8],[15.9,-7.6],[16.1,-6.8],[18,-6.9],[18,-7.8],[19.3,-7.5],[21.4,-8],[22.5,-7.3],[30.4,-7.7],[32,-7.5],[35.3,-7.6],[37,-7.5],[27.2,-7.9],[29,-8],[24.6,-7.8],[37.9,-7.5],
[41.9,24.5],[42.5,24.5],[47.6,23.8],[45.5,23.1],[43,22],[44.1,22.3],[43.5,21.5],[59.6,22.3],[59.8,20.4],[43,20.5],[40.1,20.2],[40.9,20.2],[51.4,19.8],[30.5,18.9],[48,19.1],[48.1,18.8],[42.3,18.6],[43.9,18.6],[46.9,18.7],[53.2,18.9],[53.8,18.5],[54.7,18],[57.9,18.4],[62.5,18.1],[34.2,17.7],[45.4,18.3],[47.2,17.7],[49.9,17.8],[51.1,17.5],[51.6,17.4],[57,17.6],[54.4,17.1],[48.1,17],[36.5,16.5],[39.4,16.5],[41,16.4],[42.1,16.7],[43.9,16.6],[53.3,16.5],[54,16.2],[59,16.4],[69.1,16.7],[52.5,16],[51,15.7],[37.7,15.6],[37.4,15.3],[37.8,14.9],[57.3,15.3],[58.5,15.2],[63,15.5],[41.9,15.1],[43.6,15],[48.8,15.2],[49.4,14.8],[46.3,14.9],[46.5,14.7],[53.1,15],[54.2,14.6],[54.7,14.4],[55,14],[59.9,14.8],[59.6,14.6],[62,14.8],[67,14.8],[44.9,14.5],[42,14.4],[39.1,14.4],[39.8,14.2],[36.9,14.1],[35,13.8],[44.4,14],[41.4,13.8],[45.1,13.6],[48.3,13.7],[59.3,14.1],[59,13.9],[62,14],[63.8,13.8],[70.2,13.6],[29,13.2],[38.4,13.4],[38.9,13.4],[40.7,13.4],[50.9,13.5],[55.4,13.4],[57,13.3],[65.3,13.3],[46.5,12.9],[52.9,13],[56.1,13.1],[55.4,12.8],[56,12.8],[61.1,12.9],[68.6,13],[65.2,12.6],[66,12.6],[39.9,12.7],[39.8,12.4],[43,12.9],[42.3,12.6],[57.4,12.3],[46.5,12.2],[49,12.1],[51.5,12.2],[51.7,12.2],[62.2,12.2],[37.2,12],[40.8,12.1],[54.5,12],[34.5,11.9],[46.1,11.7],[49.8,11.6],[54.3,11.6],[61.9,12],[63.1,11.8],[59.5,11.6],[37.1,11.6],[40.5,11.5],[33.6,11.5],[61.9,11.3],[44,11.2],[53.6,11],[37.5,11.1],[59.6,10.9],[56.3,10.8],[57.2,10.9],[64.9,11],[44.5,10.9],[45,10.7],[42.1,10.8],[67.7,10.5],[44.5,10.4],[49.1,10.3],[41.4,10.2],[38.9,10.3],[35.8,10.2],[56.6,10.2],[61,10.4],[71.5,10.4],[65.4,10.3],[63.7,10.1],[72.2,10.1],[70.8,10],[40.4,9.9],[37.8,9.7],[63,9.6],[45,9.5],[44.2,9.4],[44.6,9.1],[47.7,9.1],[46.4,9.2],[54.6,9.2],[60,9.3],[65.9,9.1],[36.8,9.3],[38.1,9.2],[34.4,9],[32.8,8.6],[36.8,8.9],[38.6,8.8],[39.8,9],[40.3,8.7],[52.1,8.9],[60.3,8.9],[66.8,8.8],[72,8.9],[75.4,8.8],[75.9,8.8],[49.3,8.5],[55.4,8.6],[62.1,8.5],[69.9,8.5],[58.3,8.3],[29.5,8.2],[63.7,8.2],[65.4,8.4],[72.1,7.7],[38.9,8.1],[35.2,7.9],[55.4,7.9],[29.5,7.9],[53.2,7.8],[53,7.7],[36.5,7.4],[45.3,7.5],[64.7,7.6],[68.4,7.3],[68.2,7.1],[34.4,7],[37.8,7.1],[40.4,7.2],[39,7.2],[42.1,7.1],[44.5,7.1],[44.9,7],[50.5,7.2],[64.2,7],[33.1,6.7],[35.3,6.7],[35.8,6.8],[38.1,6.7],[32.4,6.5],[58.3,6.6],[69.5,6.7],[74.8,6.5],[32.2,6.4],[34.9,6.2],[38.4,6.4],[36.8,6.3],[49.6,6.1],[52.3,6.2],[56.1,6.1],[71.6,6.5],[71.6,6.2],[75.4,6],[28.8,5.8],[29.3,5.8],[38.3,5.9],[40.6,5.8],[67.9,6],[68,5.6],[38.3,5.6],[56.2,5.4],[72.8,5.6],[30.6,5.2],[40.2,5.2],[46.4,5.1],[59.1,5.2],[63.8,5.2],[73,5],[37.3,4.9],[43,5],[51.4,5],[74.1,4.7],[70.4,4.5],[48.9,4.5],[56.6,4.6],[42.3,4.4],[34.4,4.4],[45.2,4.2],[65.7,4.3],[67.9,4.4],[68.3,4.1],[37.2,4],[34.1,3.8],[33.3,3.8],[71.9,4],[71.6,3.8],[58.4,3.7],[64.2,3.7],[65.4,3.6],[74.1,3.6],[33.5,3.4],[51.1,3.6],[47.7,3.6],[74.2,2.8],[41.2,3.5],[44,3.4],[38.4,3.3],[39.5,3.2],[74.3,3.2],[47.7,2.9],[46.9,2.9],[54,3.2],[39.9,2.9],[44.8,2.8],[62.4,2.8],[62,2.9],[68.1,2.9],[71.3,2.7],[72.7,2.9],[29.3,2.7],[40.6,2.7],[53,2.9],[56.6,2.8],[35.5,2.6],[41.4,2.5],[41.8,2.4],[43,2.5],[43.7,2.5],[48.9,2.4],[51.2,2.4],[69.8,2.7],[69.8,2.3],[71.2,2.2],[45.4,2.2],[45.7,2.1],[50.4,2.2],[55.6,2.2],[64.3,2.2],[72.6,2.1],[33.2,2],[35,1.8],[48.8,1.8],[51.6,1.8],[61,2],[66.1,2],[65.7,1.7],[70.9,1.6],[65.3,1.4],[67.7,1.5],[71.8,1.5],[32.9,1.6],[42.5,1.3],[44.5,1.3],[53.9,1.3],[62.6,1.3],[32.8,1.2],[28.5,1.5],[30.3,1.6],[40.1,1.2],[60.2,1.2],[35.6,1],[35.7,0.7],[38.9,0.9],[40.8,0.7],[72.6,0.9],[67.5,0.7],[34.2,0.6],[46.4,0.6],[70.1,0.5],[70.9,0.3],[39.9,0.3],[49,0.3],[62.3,0.3],[59.6,0.1],[67.7,0.2],[67.4,0],[34.4,0.2],[38.2,0],[52.2,0],[56.1,0],[72,-0.1],[63.3,-0.1],[28.8,-0.3],[31.6,-0.2],[44.9,-0.3],[55.1,-0.3],[63.7,-0.9],[74,-0.4],[45.2,-1.1],[42.8,-0.5],[42.2,-0.6],[36.4,-0.6],[50.6,-0.8],[67,-0.6],[69.2,-0.8],[58.2,-0.9],[60.9,-0.97],[48.3,-1],[39.9,-1.4],[33,-1.3],[31.1,-1.3],[47.3,-1.3],[39,-1.8],[38.4,-1.9],[42.1,-1.8],[47,-1.7],[72.8,-1.8],[74.4,-2.2],[30.9,-1.9],[36.2,-2],[55,-1.6],[57.4,-1.9],[65.8,-1.8],[42.9,-2.2],[29.5,-2.3],[38.4,-2.1],[68.3,-2],[31,-2.8],[31.5,-2.8],[56.7,-2.3],[54.8,-2.6],[62.7,-2.7],[73.1,-2.8],[34.6,-2.9],[39.3,-3],[43,-3.1],[51.3,-3],[35.1,-3.2],[41.5,-3.3],[45.3,-3.3],[72.9,-3.6],[35.5,-3.7],[33.3,-3.6],[32,-3.9],[47.6,-3.7],[41,-3.5],[75.2,-3.8],[75.7,-4],[53.9,-3.9],[33.7,-4.3],[29,-4.3],[39.2,-4.4],[44.7,-4.5],[68,-4.4],
[43.3,-5.2],[44.1,-5.3],[44.7,-4.6],[47.5,-5.6],[53,-5.8],[56.2,-6.4],[59.5,-6],[59.5,-6.4],[49.7,-7.8],[44.7,-8.8],[43.9,-6.5],[44.7,-6.8],[44.2,-6.7],[41.2,-6.9],[40,-6.1],[41.9,-8.6],[40.6,-8.2],[47.1,-9.4],[47.6,-9.2],[45.8,-10.1],[42.9,-9.7],[42.6,-10],[41.6,-10.3],[39.5,-11.7],[41.3,-11.5],[41.1,-12.2],[43,-12.1],[38.8,-12.6],[38.8,-13.6],[40.7,-13.8],[41.6,-14.7],[39.1,-14.6],[40.2,-15.1],[42.7,-15.3],[43.4,-15.7],[39.1,-15.6],[38.1,-14.6],[38.1,-16.2],[38.3,-16.6],[40.8,-17.4],[38.3,-17.4],[37.6,-17.4],[36.9,-17.4],[36.3,-17.5],[37.6,-18],[37.9,-18.4],[40.4,-18.3],[40.7,-18.2],
[37.9,-8.8],[39.5,-9.1],[39,-9.3],[39.2,-9.9],[36.3,-8.8],[36.6,-9.1],[36.7,-9.9],[37.5,-10.8],[36.3,-10.9],[34.8,-9.2],[34.9,-9.7],[33.7,-9],[32.9,-9.1],[33,-10],[31.1,-9.8],[30.3,-8.8],[29,-8.8],[26.9,-9.8],[27.4,-10.2],[32.8,-10.7],[33.3,-11.3],[35.4,-12.2],[37.3,-12.3],[32.1,-11.2],[30.9,-11.6],[29.4,-11.6],[28.7,-10.8],[28.6,-11.6],[26.9,-11.7],[26,-11.6],[26.2,-11.9],[23.5,-10.8],[22.8,-11.3],[24.5,-12.1],[23.8,-12.4],[23,-12.3],[24.4,-12.8],[20.4,-10.9],[20.3,-11.3],[18.6,-10.2],[16.3,-10.4],[13.6,-10.6],[13.9,-11.2],[18.3,-12.3],[18.8,-12.7],[19.1,-13.1],[20.2,-12.9],[20.2,-13.5],[20.9,-13.2],[21.7,-13.3],[16.8,-13.5],[15.2,-13.7],[18.4,-13.6],[25.8,-13.5],[26.1,-13.9],[26.7,-14.1],[27.1,-14.6],[28.3,-13.4],[30.4,-13.5],[31.5,-12.9],[31.6,-13.8],[34.1,-12.5],[34,-13.3],[33.8,-14],[34.8,-13.9],[35.8,-14.3],[36.4,-13.8],[36.8,-14.3],[33.2,-14.3],[33.5,-14.7],[34.2,-14.9],[32,-15],[36.7,-15],[37.1,-15.6],[34.6,-15.5],[32.9,-15.7],[34.4,-15.8],[35.9,-15.7],[35.7,-16],[30.8,-15.3],[30.2,-15.7],[29.2,-16],[31.9,-16.2],[23.2,-14.3],[22.8,-14.8],[25.2,-15],[23.9,-15.5],[24.1,-16],[21.9,-15.7],[26.5,-15.5],[20.3,-15.9],[18.8,-15.8],[18.5,-16.2],[18.2,-16.7],[20.5,-16.5],[20.9,-16.8],[22.4,-16.6],[22.1,-17.4],[26.1,-16.9],[28.2,-16.5],[28.1,-17.1],[27.7,-17.2],[30.4,-16.9],[30.1,-17.1],[33.3,-17.2],[35.2,-17.4],[31.9,-17.6],[14.7,-17.1],[19.8,-17.4],[23.2,-17.9],[26.1,-17.8],[26.3,-18],[30.2,-18.1],[31.9,-18.6],[34.7,-18.1],[27.8,-18.6],[30.2,-18.9],[30.4,-19.1],[34.8,-18.7],[35.3,-19],[21.6,-18.8],[23.6,-18.6],[21,-19.3],[36.2,-19.1],[36.7,-19.3],[37.2,-19.8],[37.1,-20.1],[32.7,-20.1],[31.2,-20.4],[36.6,-21.1],[34.4,-21.7],[35.8,-22.1],[36.2,-23.1],[32.2,-23.1],[25,-21.7],[25.6,-21.7],[26.5,-21.9],[29.2,-22.2],[29.5,-22.9],[11.5,-21.4],[11.5,-22.1],[12,-22.5],[11.9,-27],[11,-27.8],[11.6,-27.8],[12.5,-27.6],[13.2,-27.9],[13.7,-28.2],[13.6,-28.8],
[79.5,1.3],[79.7,0.2],[78.1,-0.2],[77,-1.3],[77.4,-1.3],[77.7,-1.2],[78.2,-1.9],[77.8,-2.4],[77,-2.6],[79,-1.9],[79.4,-2.2],[79.7,-2.6],[79.2,-2.8],[80.2,-3.1],[81.3,-2.2],[81.8,-2.4],[82,-3.1],[81.7,-3.4],[81.1,-3.9],[81.8,-3.9],[77.9,-3.8],[79,-4.2],[75.2,-3.8],[75.8,-4],[77.2,-4.5],[77.6,-4.6],[76.9,-5],[80,-4.6],[80.2,-5.1],[82.3,-5.5],[82.5,-6.3],[82.3,-6.7],[81.2,-7.3],[80,-8],[79.3,-8.1],[74.3,-2.3],[73,-5],[73.6,-5.8],[75.1,-6],[68,-4.5],[69.2,-5.2],[69.6,-6.2],[73.1,-7.1],[72.2,-7.9],[72.4,-8.4],[70.3,-8.4],[71.3,-8.4],[73,-8.7],[74.5,-9.4],[65.5,-5.2],[68.5,-6],
[-15.6,11.6],[-15,10],[-14.6,9.5],[-14.8,4],[-15.5,-2.6],[-14.8,-4.8],[-15,-6.5],[-15.3,-8],[-14.4,-9],[-15,-11],[-13.6,-8.5],[-14.5,-12.2],[-13.3,-10.5],[-14.9,-10],
[1,-10.2],[1.8,-10.9],[2.8,-9.7],[3.5,-8.4],[4.6,-8.8],[6.6,-8.4],[3.5,-11.1],[4.4,-10.2],[5.8,-11.1],[6.5,-12],[7.6,-9.7],[8.9,-11.4],[9.9,-11.4],[6.9,-10.5],[8,-10.9],[-0.6,-10.5],[0.5,-8.5],[6.2,-10.2],[-6.7,-10.7],[-6.3,-11],[-5.7,-11.1],[-10.4,-8.8],[-12.9,-10.5]
];
const redPoints = [
[-47.7,31.4],[-36.5,23.7],[-57,19.2],[-17.3,24],[7.9,20.9],[12.2,19.3],[8.5,18],[11.7,17],[-0.9,17.1],[18.2,16],[-26.1,8.9],[-22.2,3.4],[-35.1,-5.4],[-27.6,-8.9],[-19.2,-10.7],[-22.3,-11.5],[-15.5,-6.5],[-22.4,-11.6],[6.1,-13.1],[8.4,-14.2],[-24,-14.3],[-3.9,-13.7],[-12.2,-16],[-18.8,-17.1],[-8.5,-17.5],[6.7,-17.6],[8.1,-18.6],[-31.3,-18.3],[-24.4,-18.1],[-20.9,-19.8],[-5.5,-20.9],[-24.2,-23],[-13.9,-28.3],[-0.1,-26.6],[0,-27],[0.2,-27.4],[-18.7,-28.9],[-30.1,-32.5],[9.7,-34.1],[-28.6,-34.1],[-24.5,-36.3],[-25.3,-37.6],[-19.8,-38.6],[-17.6,-39.1],[-15.8,-37.5],[-13.4,-37],[-1.5,-40.5],[2.2,-37.5],[2.2,-39],[5.6,-36.3],[13.3,-36.2],[6.1,-39.1],[6.7,-40.3],[5.2,-9],[5.9,-8.8],
[2.6,14.9],[2.3,13.7],[9.5,14.5],[12.6,14.4],[18.9,13.9],[22.7,14.3],[24,13.6],[32.8,14],[33,13.6],[9.1,10.7],[3.6,12.1],[3,11],[5.2,9.7],[14.1,11.1],[21.1,10.5],[30.9,9.9],[33.2,10.3],[-4.6,10.2],[15.7,7.6],[27.6,8.6],[19.9,5.6],[18.4,7.1],[27.6,7],[27.3,6.4],[29.6,6],[30.7,7],[30.5,6.7],[31,5.2],[31.2,4.4],[36,7.1],[35.2,5.5],[35.9,4.8],[39,7.6],[39.2,6.5],[1.2,6.6],[-1.6,4.2],[15.7,4.8],[16.5,4.5],[18.2,3.7],[28.7,3],[29,2],[30.2,1.8],[32.4,3],[33,2.6],[34.6,4.6],[37.3,3.6],[34.6,2.3],[36.8,2.2],[36.9,1.8],[39,1.7],[4.1,1.9],[6.5,2.4],[11.6,2.4],[22.8,1.9],[25.4,1.3],[24,0.9],[1.7,-0.6],[11.6,-1],[18.4,-0.3],[27.1,0.2],[28.9,-0.2],[23,-1.4],[25.4,-1.6],[25,-2],[33.7,-1.3],[37.7,-0.5],[38.7,-0.1],[34.6,0.7],[36.5,-1.5],[36,-2.1],[5.3,-4.8],[17.9,-5.4],[15.6,-2.1],[15.5,-2.4],[15.8,-3.2],[18,-3.4],[21.7,-4.1],[21.2,-6.4],[25.8,-5.8],[26.3,-3.5],[34.6,-3.1],[35.8,-3.5],[37.6,-3.2],[34.2,-5],[-10.4,-6.9],[16.9,-8.2],[17.2,-7.9],[21.9,-7.2],[28.8,-7],[30.6,-7.3],[26,-7.8],[28,-8],[26,-8.5],[38.7,-7.2],[39.6,-6.7],[38.8,-7.8],
[40.5,25.1],[47.6,24.1],[39.7,22.7],[45.4,22.9],[47,22.4],[42.8,22],[43.9,21.9],[52,22],[52.6,21.7],[55.7,21.7],[48.9,21.1],[54.6,21],[40.2,19.6],[46.4,19.7],[57.1,19.2],[57.8,18.7],[52.5,18.8],[39.2,18.6],[38.5,18.4],[38.9,18.2],[40.9,18.1],[42.1,18.4],[44.1,18.3],[47,18.4],[50.5,17.9],[52,17.9],[54.5,17.8],[57.2,18],[58.4,18.1],[60.5,18.2],[61.9,18],[62.4,18.5],[64.1,17.6],[37.7,17],[39.8,16.6],[42.8,16.5],[45.9,16.8],[48.4,17],[58,17],[58.1,16.6],[65.7,16.8],[61.4,16.3],[37.2,16.2],[60.1,15.8],[56.3,15.8],[56.8,15.7],[46.3,15.7],[50.9,15.5],[49.6,15.3],[43.7,15.3],[39.3,15.3],[42,14.8],[39.2,14.6],[53.7,14.7],[57.9,14.7],[60.2,14.6],[64.7,14.9],[68.1,14.4],[69.3,14.6],[37.2,14.4],[51.1,14.6],[62,14.3],[32.7,13.9],[32.9,13.6],[47.1,14],[47.1,13.8],[58,14],[57.8,14],[51.1,13.8],[43.8,13.7],[64.3,13.7],[65.3,13.7],[67.4,13.7],[37.5,13.3],[37.7,13.3],[48.1,13.3],[46.7,13.3],[50.1,13.2],[45.4,13],[67.6,13.3],[64.9,12.9],[72.1,12.9],[60.7,12.8],[62.4,12.7],[67.1,12.5],[42.6,12.6],[41.8,12.4],[69.3,12.4],[70.1,12.1],[33.8,12.2],[44.3,12.2],[55.4,12.2],[59,12.1],[59.6,11.9],[47,12],[49.6,11.6],[34.2,11.8],[34.2,11.4],[61.3,11.5],[63.5,11.5],[70.9,11.3],[52.7,11.3],[54,11.3],[39.6,11.2],[65.5,11.4],[46.9,10.8],[65.4,10.8],[64.7,10.7],[41.6,10.6],[33.2,10.3],[30.8,9.9],[58.6,10.3],[66.6,10.5],[59.7,10],[49.1,10.5],[47,10],[51,10],[51.1,9.8],[52.1,10.2],[52.7,9.9],[55.7,9.9],[56.2,10.2],[40.2,9.7],[47.6,9.5],[65.7,9.5],[42.8,9.3],[46,9.3],[44,9.3],[54.1,9.2],[71.7,9.4],[63.7,9],[57.6,8.9],[58.4,8.8],[57.8,8.5],[46.6,8.8],[62.2,8.9],[64.4,8.5],[64.8,8.2],[50.2,8.3],[68.7,8.2],[69.4,8.4],[68.8,7.9],[72.4,8.1],[63.6,8.1],[41.7,7.7],[39,7.6],[66.4,7.6],[60.3,7.5],[41.5,7.2],[41.4,6.9],[53.5,7.3],[56.9,7.2],[56.6,6.8],[68.5,7.4],[36,7.2],[48.4,7.2],[46.7,7],[50.6,7],[51.1,7],[62.2,7],[74.1,7.2],[30.6,7],[30.4,6.6],[42.6,6.8],[42.7,6.5],[59.9,6.6],[66.4,6.7],[69.6,6.7],[44.1,6.4],[44.4,6.3],[39.2,6.5],[54.8,6.5],[55.7,6.1],[58.6,6.2],[64.9,6.1],[73.1,6.2],[29.6,6],[52,5.9],[62.9,5.8],[66.9,6],[72.3,5.9],[53.2,5.6],[35.1,5.5],[60.3,5.7],[58.5,5.5],[64.7,5.5],[66.9,5.3],[46.8,5.2],[47.4,5.1],[31,5.2],[77.8,5.2],[69.2,5.1],[65,5],[73.6,5.2],[35.9,4.8],[39.6,4.8],[70.3,4.8],[71.1,4.9],[48.4,4.7],[34.6,4.6],[44.9,4.6],[63.4,4.7],[53,4.5],[55,4.5],[57.1,4.5],[50.4,4.5],[61.2,4.5],[61.7,4.5],[31.2,4],[51,4.2],[66.2,4.2],[67.2,4.2],[73.4,4.3],[57.9,3.9],[63.9,3.8],[73.1,3.8],[59.6,3.7],[37.2,3.5],[50.5,3.3],[66.9,3.4],[67.9,3.5],[28.6,3],[32.4,3],[32.9,2.7],[54.5,3.1],[57.3,2.9],[75.4,2.9],[63.7,2.8],[49.3,2.8],[48.3,2.6],[58.7,2.7],[53.3,2.8],[56.2,2.6],[64.2,2.6],[43.5,2.6],[59,2.4],[66.4,2.4],[53.4,2.3],[34.6,2.3],[36.8,2.3],[29,2],[60,2.1],[51.4,1.9],[36.9,1.8],[30.1,1.8],[59.9,1.7],[53.5,1.7],[39,1.7],[60.5,1.5],[49.8,1.7],[49.8,1.4],[62.3,1.4],[74.6,1.6],[73.4,1.6],[72.8,1.6],[70.1,1.3],[68.8,1.3],[44.9,1.3],[71.9,1.3],[72.7,1.2],[49.6,1.1],[57.8,1.1],[40.7,0.9],[34.5,0.7],[57.2,0.7],[70.5,0.7],[49.4,0.7],[60.1,0.6],[57.4,0.4],[75.2,0.4],[28.9,-0.2],[46.6,0],[65.5,0],[38.7,-0.1],[37.7,-0.5],[46.1,-0.5],[46.9,-0.5],[52.7,-0.4],[54,-0.4],[69.5,-0.4],[71.7,-0.3],[63.2,-0.6],[54.6,-0.7],[66.5,-0.7],[71.2,-0.9],[71.7,-0.9],[74,-0.7],[67.3,-1],[41.9,-0.8],[44.8,-0.8],[54.9,-1.1],[60.2,-1.3],[58.6,-1.2],[33.6,-1.3],[36.5,-1.6],[36,-2.1],[57.5,-1.6],[43.7,-2.6],[43.5,-2.7],[51.5,-2.3],[70.9,-2.6],[68.3,-2.7],[62,-2.8],[71.3,-3.2],[66.3,-3.4],[37.6,-3.3],[54.5,-3.3],[34.6,-3.2],[41.2,-3.5],[73,-3.3],[35.9,-3.7],[48.5,-3.8],[57.4,-3.8],[54.4,-3.9],[49.3,-4],[61.3,-4],[45.4,-4],[49.3,-4.3],[70.8,-4.2],[70,-4.3],[41.6,-4.5],
[40.3,-5.2],[41.5,-4.6],[42.2,-5.3],[59.5,-6.8],[50.6,-7.5],[42.6,-7],[41.8,-10.1],[43.4,-12.1],[45.6,-12.2],[40.8,-13.4],[40,-14.6],[42.9,-15.6],[41,-16.8],[39.9,-18.5],[42.7,-18.2],[39.2,-19],[39.1,-20.5],[41.5,-20.5],[38.9,-8.6],[33.2,-8.7],[32.8,-9.6],[29.9,-9.9],[33.4,-10.9],[33.5,-11.7],[34.9,-10.9],[35,-11.5],[35.3,-11.8],[36.6,-11.8],[37.9,-12.4],[30.3,-11.6],[25.8,-10.9],[23.2,-11.6],[15.9,-11.2],[14.1,-11.6],[16.7,-13],[16.9,-13.9],[19.2,-14.1],[30.3,-13.2],[31.4,-13.4],[37.9,-13.8],[37.9,-14.1],[29.4,-14.3],[29.8,-14.5],[36.7,-15.1],[33.7,-15.8],[23,-15.3],[25.1,-15.4],[21.1,-16.6],[34.6,-17.2],[34.7,-17.6],[16.1,-17],[31.8,-18.4],[28.3,-18.9],[19.9,-18.5],[19.9,-18.9],[24.3,-18.6],[30.6,-19.9],[31.9,-20.1],[31,-21.2],[34.8,-21.6],[26.6,-22.4],[29,-22.4],
[71.4,-3.2],[70,-4.5],[70.8,-4.2],[71.6,-4.7],[72.1,-4.8],[70.3,-6.1],[73.4,-5.5],[74.8,-5.7],[76.1,-6.8],[72.8,-7.2],[74.1,-8.6],[72,-8.7],[66.4,-6.8],[66.9,-7.2],[68.5,-8.5],[72.2,-8.8],[74.2,-8.8]
];

// frame on all four sides like the original
const framePlugin = {
  id: 'frame',
  afterDatasetsDraw(chart) {
    const { ctx, chartArea: a } = chart;
    ctx.save();
    ctx.strokeStyle = '#000';
    ctx.lineWidth = 3.33;
    ctx.strokeRect(a.left, a.top, a.right - a.left, a.bottom - a.top);
    ctx.restore();
  }
};

const tickText = v => String(v).replace('-', '\u2212');
const toXY = p => ({ x: p[0], y: p[1] });

new Chart(document.getElementById('chart').getContext('2d'), {
  type: 'scatter',
  data: {
    datasets: [
      { data: cyanPoints.map(toXY), backgroundColor: '#00BFBF', pointRadius: 7, borderWidth: 0 },
      { data: redPoints.map(toXY), backgroundColor: '#FF0000', pointRadius: 7, borderWidth: 0 }
    ]
  },
  options: {
    responsive: false,
    devicePixelRatio: 1,
    animation: false,
    events: [],
    layout: { padding: { top: 288, right: 360, left: 0, bottom: 0 } },
    plugins: { legend: { display: false }, tooltip: { enabled: false } },
    scales: {
      x: {
        type: 'linear',
        min: -75.6,
        max: 90,
        afterBuildTicks: s => { s.ticks = xTicks.map(v => ({ value: v })); },
        afterFit: s => { s.height = 264; },
        grid: { display: true, drawOnChartArea: false, drawTicks: true, tickLength: 15, tickWidth: 3.33, tickColor: '#000' },
        border: { display: true, color: '#000', width: 3.33 },
        ticks: {
          autoSkip: false, maxRotation: 0, padding: 7, color: '#000',
          font: { family: 'DejaVu Sans', size: 41.67 },
          callback: tickText
        },
        title: {
          display: true, text: xLabel, color: '#000',
          font: { family: 'DejaVu Sans', size: 62.5 },
          padding: { top: 0, bottom: 112.5 }
        }
      },
      y: {
        type: 'linear',
        min: -46.4,
        max: 48.3,
        afterBuildTicks: s => { s.ticks = yTicks.map(v => ({ value: v })); },
        afterFit: s => { s.width = 450; },
        grid: { display: true, drawOnChartArea: false, drawTicks: true, tickLength: 15, tickWidth: 3.33, tickColor: '#000' },
        border: { display: true, color: '#000', width: 3.33 },
        ticks: {
          autoSkip: false, padding: 14, color: '#000',
          font: { family: 'DejaVu Sans', size: 41.67 },
          callback: tickText
        },
        title: {
          display: true, text: yLabel, color: '#000',
          font: { family: 'DejaVu Sans', size: 62.5 },
          padding: { top: 244.5, bottom: 0 }
        }
      }
    }
  },
  plugins: [framePlugin]
});
</script>
</body>
</html>
